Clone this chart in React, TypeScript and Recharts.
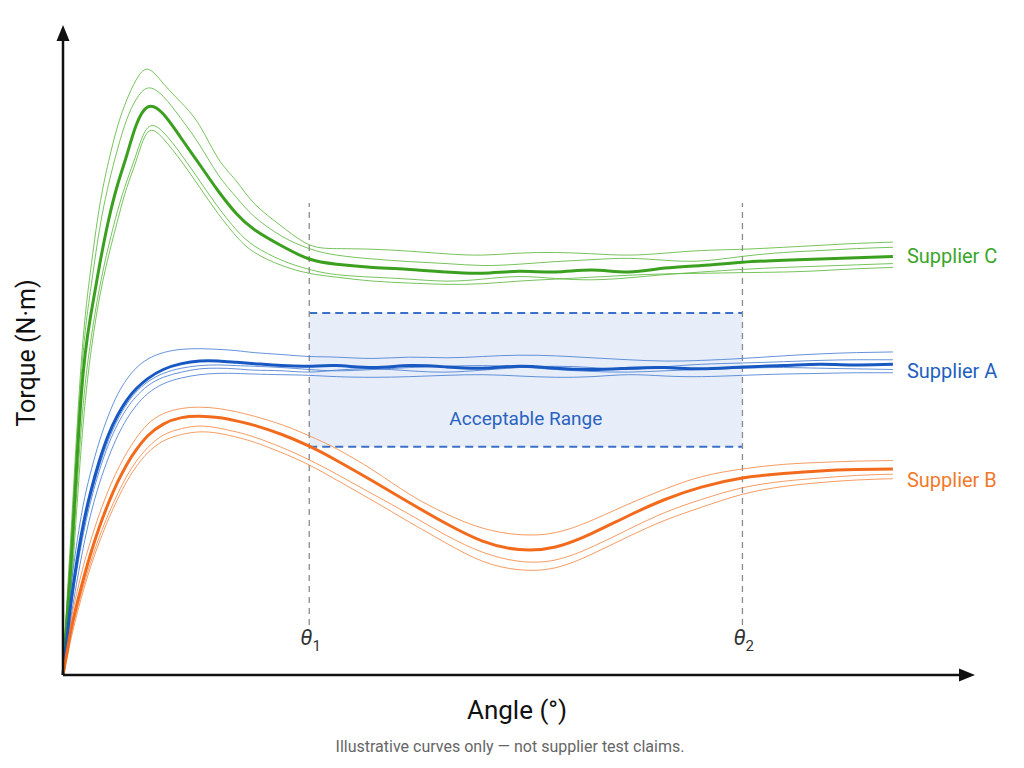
import React from "react";
import {
  LineChart,
  Line,
  XAxis,
  YAxis,
  ReferenceLine,
  ReferenceArea,
  ReferenceDot,
} from "recharts";

// Angle samples (arbitrary units, 0–100 spans the x axis)
const angles = [0, 0.5, 1, 2, 3, 4, 5, 6, 7, 8, 9.3, 11, 13, 15, 17, 19, 21, 24, 27, 30, 34, 38, 42, 46, 50, 54, 58, 62, 66, 70, 74.5, 79, 83, 87, 91];

// Supplier C (green): mean curve + individual runs
const supplierC = [0, 10, 20, 43, 55, 63, 70, 75.5, 80, 84.5, 87.4, 86.3, 82.5, 78.5, 74.5, 71, 68.5, 66, 64, 63.2, 62.7, 62.4, 62, 61.8, 62.1, 62, 62.3, 62, 62.6, 63, 63.5, 63.8, 64, 64.2, 64.4];
const supplierCRun1 = [0, 13, 25, 48, 62, 72, 79, 84.5, 88.5, 91.5, 93.2, 91, 88, 84.5, 79.5, 76, 72.5, 69, 66.2, 65.6, 65.5, 65.2, 64.8, 64.6, 64.9, 65, 64.8, 64.6, 64.9, 65.3, 65.5, 65.8, 66.1, 66.4, 66.6];
const supplierCRun2 = [0, 12, 23, 46, 59, 68.5, 75.5, 81, 85.5, 88.5, 90.3, 89, 85.5, 81.5, 77, 73.5, 70.5, 67.5, 65.6, 64.6, 64, 63.6, 63.3, 63, 63.2, 63.6, 63.9, 64.1, 63.8, 63.7, 64.4, 65, 65.3, 65.6, 65.8];
const supplierCRun3 = [0, 8, 17, 38, 51, 59.5, 66, 71.5, 76, 80, 84.2, 83.5, 80, 76, 72, 68.5, 66, 63.8, 62.4, 61.6, 61.2, 60.9, 60.6, 60.9, 61.3, 61, 60.8, 61.1, 61.6, 62, 62.4, 62.7, 62.9, 63.1, 63.3];
const supplierCRun4 = [0, 7, 15, 35, 49, 58, 64.5, 70, 75, 79, 83.5, 82.5, 79, 75, 71, 67.5, 65, 63, 61.8, 61.2, 60.6, 60.3, 60.1, 60.2, 60.6, 60.9, 61.2, 61.5, 61.7, 61.8, 61.9, 62, 62.2, 62.5, 62.7];

// Supplier A (blue)
const supplierA = [0, 6.5, 12.5, 21.5, 28, 33, 37, 40, 42.3, 44, 45.6, 47, 47.9, 48.3, 48.3, 48.1, 47.9, 47.6, 47.5, 47.6, 47.3, 47.6, 47.4, 47.2, 47.5, 47.2, 47, 47.2, 47.3, 47.1, 47.4, 47.6, 47.8, 47.7, 47.8];
const supplierARun1 = [0, 8, 15, 24.5, 31, 36, 40, 43.2, 45.5, 47.2, 48.6, 49.6, 50.1, 50.2, 50.1, 49.9, 49.6, 49.3, 49, 48.9, 48.7, 48.9, 48.8, 49, 49.2, 49.1, 48.8, 48.5, 48.3, 48.4, 48.7, 49.1, 49.4, 49.6, 49.7];
const supplierARun2 = [0, 6, 11.5, 20, 26.5, 31.5, 35.5, 38.6, 41, 42.8, 44.5, 45.8, 46.6, 47.1, 47.2, 47.1, 46.9, 46.8, 46.6, 46.9, 47.1, 46.8, 46.6, 46.9, 47.3, 47.5, 47.3, 47, 47.4, 47.8, 48, 48.2, 48.4, 48.5, 48.5];
const supplierARun3 = [0, 5, 10, 18, 24.5, 29.5, 33.5, 36.8, 39.4, 41.4, 43.3, 44.8, 45.7, 46.2, 46.4, 46.4, 46.3, 46.2, 46.1, 45.9, 45.8, 45.9, 46.1, 46.2, 46, 45.8, 45.9, 46.2, 46, 45.9, 46.1, 46.3, 46.4, 46.5, 46.5];
const supplierARun4 = [0, 6.3, 12, 20.8, 27.2, 32.2, 36.2, 39.3, 41.7, 43.5, 45.1, 46.4, 47.2, 47.6, 47.7, 47.6, 47.5, 47.3, 47, 46.8, 47, 47.3, 47.5, 47.6, 47.4, 47, 46.7, 46.6, 46.8, 47, 47.2, 47.3, 47.2, 47.1, 47];

// Supplier B (orange)
const supplierB = [0, 4, 7.8, 13.5, 18.5, 22.8, 26.5, 29.7, 32.4, 34.6, 36.8, 38.6, 39.6, 39.8, 39.6, 39.1, 38.4, 37, 35.2, 33, 29.8, 26.5, 23.3, 20.6, 19.3, 19.7, 21.8, 24.5, 27, 28.9, 30.3, 31, 31.4, 31.6, 31.7];
const supplierBRun1 = [0, 5, 9.3, 15.5, 20.5, 24.8, 28.5, 31.6, 34.2, 36.4, 38.6, 40.2, 41, 41.2, 41, 40.5, 39.8, 38.5, 36.8, 34.8, 31.5, 27.8, 24.8, 22.6, 21.6, 21.9, 23.8, 26.3, 28.6, 30.5, 31.7, 32.4, 32.7, 32.9, 33];
const supplierBRun2 = [0, 3.5, 7, 12.5, 17.2, 21.3, 24.8, 27.9, 30.6, 32.8, 35, 36.9, 37.9, 38.3, 38, 37.4, 36.6, 35, 33.1, 30.9, 27.8, 24.7, 21.5, 18.9, 17.5, 17.7, 19.7, 22.4, 25, 27, 28.8, 29.8, 30.3, 30.7, 30.9];
const supplierBRun3 = [0, 3, 6.3, 11.8, 16.5, 20.5, 24, 27.1, 29.8, 32, 34.2, 36, 37, 37.4, 37.2, 36.6, 35.8, 34.2, 32.3, 30, 26.8, 23.5, 20.3, 17.5, 16.2, 16.5, 18.6, 21.3, 23.8, 25.8, 27.8, 29, 29.6, 30, 30.2];

// Window limits
const theta1 = 27;
const theta2 = 74.5;
const rangeLow = 35.1;
const rangeHigh = 55.7;

const GREEN = "#3ba01f";
const GREEN_THIN = "#5fb841";
const BLUE = "#1858c2";
const BLUE_THIN = "#4a7fd2";
const ORANGE = "#f26b1c";
const ORANGE_THIN = "#f38a48";
const FONT = "Roboto, 'Noto Sans', sans-serif";

const series: { key: string; values: number[]; color: string; width: number }[] = [
  { key: "c1", values: supplierCRun1, color: GREEN_THIN, width: 1 },
  { key: "c2", values: supplierCRun2, color: GREEN_THIN, width: 1 },
  { key: "c3", values: supplierCRun3, color: GREEN_THIN, width: 1 },
  { key: "c4", values: supplierCRun4, color: GREEN_THIN, width: 1 },
  { key: "a1", values: supplierARun1, color: BLUE_THIN, width: 1 },
  { key: "a2", values: supplierARun2, color: BLUE_THIN, width: 1 },
  { key: "a3", values: supplierARun3, color: BLUE_THIN, width: 1 },
  { key: "a4", values: supplierARun4, color: BLUE_THIN, width: 1 },
  { key: "b1", values: supplierBRun1, color: ORANGE_THIN, width: 1 },
  { key: "b2", values: supplierBRun2, color: ORANGE_THIN, width: 1 },
  { key: "b3", values: supplierBRun3, color: ORANGE_THIN, width: 1 },
  { key: "C", values: supplierC, color: GREEN, width: 3 },
  { key: "A", values: supplierA, color: BLUE, width: 3 },
  { key: "B", values: supplierB, color: ORANGE, width: 3 },
];

const data = angles.map((angle, i) => {
  const row: Record<string, number> = { angle };
  series.forEach((s) => {
    row[s.key] = s.values[i];
  });
  return row;
});

const last = angles.length - 1;

const endLabels = [
  { name: "Supplier C", value: supplierC[last], color: "#3aa52a", dy: 7 },
  { name: "Supplier A", value: supplierA[last], color: "#1f5fc0", dy: 14 },
  { name: "Supplier B", value: supplierB[last], color: "#f07a2a", dy: 18 },
];

const arrowRight = (p: any) => (
  <path d={`M${p.cx},${p.cy} l-16,-6.5 l0,13 z`} fill="#111" />
);
const arrowUp = (p: any) => (
  <path d={`M${p.cx},${p.cy} l-6.5,16 l13,0 z`} fill="#111" />
);

const thetaLabel = (sub: string) => (p: any) => (
  <text
    x={p.cx - 9}
    y={p.cy - 30}
    fontFamily={FONT}
    fontSize={22}
    fill="#333"
  >
    <tspan fontStyle="italic">θ</tspan>
    <tspan fontSize={15} dy={6}>
      {sub}
    </tspan>
  </text>
);

const rangeLabel = (props: any) => {
  const vb = props.viewBox || {};
  return (
    <text
      x={vb.x + vb.width / 2}
      y={vb.y + vb.height - 22}
      textAnchor="middle"
      fontFamily={FONT}
      fontSize={19}
      fill="#2a62c0"
    >
      Acceptable Range
    </text>
  );
};

export default function App() {
  return (
    <div style={{ position: "absolute", left: 0, top: 0, width: 1024, height: 768, background: "#fff" }}>
      <LineChart
        width={1024}
        height={768}
        data={data}
        margin={{ top: 25, right: 49, bottom: 93, left: 63 }}
      >
        <XAxis type="number" dataKey="angle" domain={[0, 100]} hide />
        <YAxis type="number" domain={[0, 100]} hide />

        <ReferenceArea
          x1={theta1}
          x2={theta2}
          y1={rangeLow}
          y2={rangeHigh}
          fill="#e7eef9"
          fillOpacity={1}
          stroke="none"
          ifOverflow="visible"
          label={rangeLabel}
        />
        <ReferenceLine
          segment={[{ x: theta1, y: rangeHigh }, { x: theta2, y: rangeHigh }]}
          stroke="#3c70c8"
          strokeWidth={2}
          strokeDasharray="8 5"
          ifOverflow="visible"
        />
        <ReferenceLine
          segment={[{ x: theta1, y: rangeLow }, { x: theta2, y: rangeLow }]}
          stroke="#3c70c8"
          strokeWidth={2}
          strokeDasharray="8 5"
          ifOverflow="visible"
        />
        <ReferenceLine
          segment={[{ x: theta1, y: 7.7 }, { x: theta1, y: 72.6 }]}
          stroke="#8a8a8a"
          strokeWidth={1.3}
          strokeDasharray="6 5"
          ifOverflow="visible"
        />
        <ReferenceLine
          segment={[{ x: theta2, y: 7.7 }, { x: theta2, y: 72.6 }]}
          stroke="#8a8a8a"
          strokeWidth={1.3}
          strokeDasharray="6 5"
          ifOverflow="visible"
        />

        {series.map((s) => (
          <Line
            key={s.key}
            dataKey={s.key}
            type="natural"
            stroke={s.color}
            strokeWidth={s.width}
            strokeOpacity={s.width > 1 ? 1 : 0.85}
            dot={false}
            activeDot={false}
            isAnimationActive={false}
          />
        ))}

        {/* axes with arrowheads */}
        <ReferenceLine
          segment={[{ x: 0, y: 0 }, { x: 98.5, y: 0 }]}
          stroke="#111"
          strokeWidth={2.5}
          ifOverflow="visible"
        />
        <ReferenceLine
          segment={[{ x: 0, y: 0 }, { x: 0, y: 98 }]}
          stroke="#111"
          strokeWidth={2.5}
          ifOverflow="visible"
        />
        <ReferenceDot x={100} y={0} r={0} shape={arrowRight} ifOverflow="visible" />
        <ReferenceDot x={0} y={100} r={0} shape={arrowUp} ifOverflow="visible" />

        <ReferenceDot x={theta1} y={0} r={0} shape={thetaLabel("1")} ifOverflow="visible" />
        <ReferenceDot x={theta2} y={0} r={0} shape={thetaLabel("2")} ifOverflow="visible" />

        {endLabels.map((l) => (
          <ReferenceDot
            key={l.name}
            x={angles[last]}
            y={l.value}
            r={0}
            ifOverflow="visible"
            shape={(p: any) => (
              <text
                x={p.cx + 14}
                y={p.cy + l.dy}
                fontFamily={FONT}
                fontSize={20}
                fill={l.color}
              >
                {l.name}
              </text>
            )}
          />
        ))}
      </LineChart>

      <svg
        width={1024}
        height={768}
        style={{ position: "absolute", left: 0, top: 0, pointerEvents: "none" }}
      >
        <text
          x={517}
          y={719}
          textAnchor="middle"
          fontFamily={FONT}
          fontSize={26}
          fill="#111"
        >
          Angle (°)
        </text>
        <text
          transform="translate(35 353) rotate(-90)"
          textAnchor="middle"
          fontFamily={FONT}
          fontSize={25}
          fill="#111"
        >
          Torque (N·m)
        </text>
        <text
          x={510}
          y={752}
          textAnchor="middle"
          fontFamily={FONT}
          fontSize={16}
          fill="#666"
        >
          Illustrative curves only — not supplier test claims.
        </text>
      </svg>
    </div>
  );
}
